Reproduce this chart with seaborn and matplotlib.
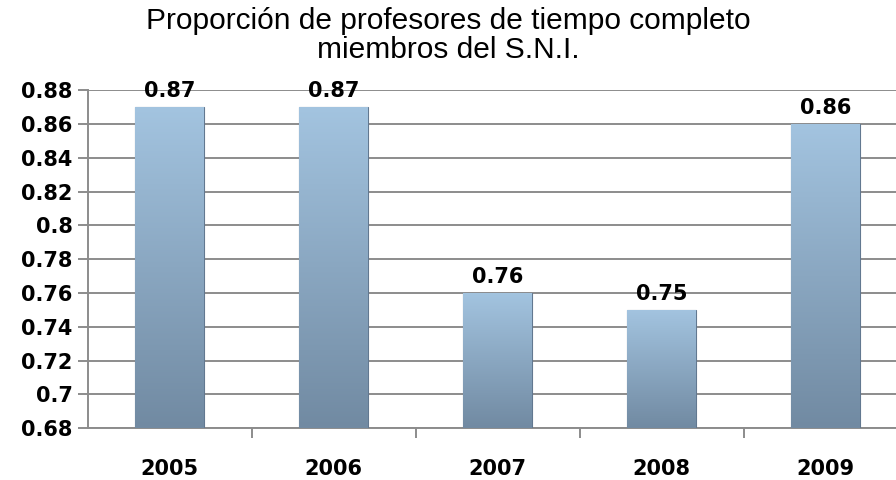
import numpy as np
import pandas as pd
import matplotlib
matplotlib.use("Agg")
import matplotlib.pyplot as plt
import seaborn as sns
from matplotlib.colors import LinearSegmentedColormap

years = ["2005", "2006", "2007", "2008", "2009"]
values = [0.87, 0.87, 0.76, 0.75, 0.86]
value_labels = ["0.87", "0.87", "0.76", "0.75", "0.86"]
ytick_vals = [0.68, 0.70, 0.72, 0.74, 0.76, 0.78, 0.80, 0.82, 0.84, 0.86, 0.88]
ytick_labels = ["0.68", "0.7", "0.72", "0.74", "0.76", "0.78", "0.8", "0.82", "0.84", "0.86", "0.88"]
title = "Proporción de profesores de tiempo completo\nmiembros del S.N.I."

sns.set_theme(style="white")
plt.rcParams['font.family'] = ['DejaVu Sans']

df = pd.DataFrame({"year": years, "value": values})

fig = plt.figure(figsize=(8.96, 4.8), dpi=100)
ax = fig.add_axes([0.098, 0.108, 0.915, 0.704])

sns.barplot(data=df, x="year", y="value", ax=ax, width=0.42,
            color="#8fb0cc", edgecolor="#627890", linewidth=0.8, zorder=3)

ax.set_ylim(0.68, 0.88)
ax.set_xlim(-0.5, 4.5)

# gradient fill on bars
cmap = LinearSegmentedColormap.from_list("g", ["#718aa2", "#a3c4e0"])
grad = np.linspace(0, 1, 256).reshape(-1, 1)
for p in ax.patches:
    x0, y0 = p.get_x(), p.get_y()
    w, h = p.get_width(), p.get_height()
    im = ax.imshow(grad, cmap=cmap, origin="lower", aspect="auto",
                   extent=[x0, x0 + w, 0.68, y0 + h], zorder=3.5)
    im.set_clip_path(p)

ax.set_yticks(ytick_vals)
ax.set_yticklabels(ytick_labels, fontsize=15, fontweight="bold", color="black")
ax.yaxis.grid(True, color="#8c8c8c", linewidth=1.4, zorder=0)
ax.tick_params(axis="y", length=7, width=1.4, color="#8c8c8c", pad=4, left=True)

ax.set_xticks(range(len(years)))
ax.set_xticklabels(years, fontsize=15, fontweight="bold", color="black")
ax.tick_params(axis="x", which="major", length=0, pad=22)
ax.set_xticks([0.5, 1.5, 2.5, 3.5], minor=True)
ax.tick_params(axis="x", which="minor", length=7, width=1.4, color="#8c8c8c", bottom=True)

for s in ["top", "right"]:
    ax.spines[s].set_visible(False)
for s in ["left", "bottom"]:
    ax.spines[s].set_color("#8c8c8c")
    ax.spines[s].set_linewidth(1.4)

ax.set_xlabel("")
ax.set_ylabel("")

for i, (v, lab) in enumerate(zip(values, value_labels)):
    ax.text(i, v + 0.0035, lab, ha="center", va="bottom", fontsize=15,
            fontweight="bold", color="black", zorder=5)

fig.text(0.5, 0.985, title, ha="center", va="top", fontsize=21.5,
         family=["Liberation Sans"], linespacing=1.05, color="black")

fig.savefig("out.png", dpi=100)
